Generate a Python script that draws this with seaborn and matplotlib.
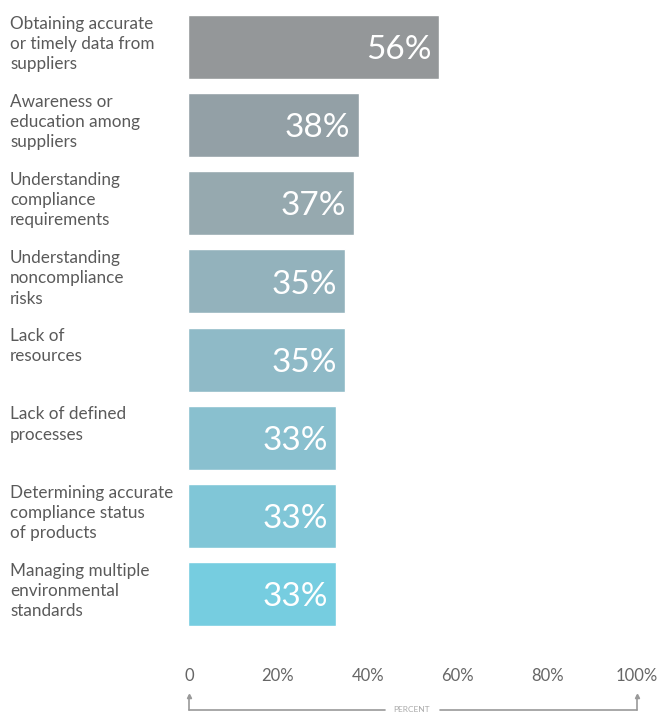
import matplotlib
matplotlib.use("Agg")
import matplotlib.pyplot as plt
import seaborn as sns
import pandas as pd

categories = [
    "Obtaining accurate\nor timely data from\nsuppliers",
    "Awareness or\neducation among\nsuppliers",
    "Understanding\ncompliance\nrequirements",
    "Understanding\nnoncompliance\nrisks",
    "Lack of\nresources",
    "Lack of defined\nprocesses",
    "Determining accurate\ncompliance status\nof products",
    "Managing multiple\nenvironmental\nstandards",
]
values = [56, 38, 37, 35, 35, 33, 33, 33]
xticks = [0, 20, 40, 60, 80, 100]
xticklabels = ["0", "20%", "40%", "60%", "80%", "100%"]
colors = ["#949799", "#93a0a6", "#96a9af", "#93b2bc", "#8fbac7", "#89c0cf", "#80c6d7", "#76cde0"]

sns.set_theme(style="white")
plt.rcParams["font.family"] = ["Lato", "DejaVu Sans"]

df = pd.DataFrame({"cat": categories, "val": values})

fig = plt.figure(figsize=(6.61, 7.13), dpi=100)
ax = fig.add_axes([188/661, 1-633/713, 449/661, 625/713])
sns.barplot(data=df, y="cat", x="val", hue="cat", palette=colors, orient="h",
            width=0.82, legend=False, ax=ax, saturation=1)
ax.set_xlim(0, 100)
ax.set_ylim(7.5, -0.5)
ax.set_xlabel("")
ax.set_ylabel("")
ax.set_yticks([])
ax.set_xticks([])
for s in ax.spines.values():
    s.set_visible(False)

for i, v in enumerate(values):
    ax.text(v - 1.8, i + 0.04, f"{v}%", ha="right", va="center", color="white",
            fontsize=24)
    ax.text(-178/4.49, i - 0.40, categories[i], ha="left", va="top", color="#5a5a5a",
            fontsize=12.3, linespacing=1.32, transform=ax.transData)

# x tick labels
for t, lab in zip(xticks, xticklabels):
    xf = (188 + t * 4.49) / 661
    ha = "center"
    if t == 0:
        xf = 189 / 661
    fig.text(xf, 1 - 676/713, lab, ha=ha, va="center", color="#666666", fontsize=12)

# bracket
gc = "#999999"
x0, x1 = 189/661, 637/661
yb = 1 - 710/713
yt = 1 - 696/713
fig.add_artist(plt.Line2D([x0, x0], [yb, yt], color=gc, lw=1.2, transform=fig.transFigure))
fig.add_artist(plt.Line2D([x1, x1], [yb, yt], color=gc, lw=1.2, transform=fig.transFigure))
fig.add_artist(plt.Line2D([x0, 385/661], [yb, yb], color=gc, lw=1.2, transform=fig.transFigure))
fig.add_artist(plt.Line2D([440/661, x1], [yb, yb], color=gc, lw=1.2, transform=fig.transFigure))
for xx in (x0, x1):
    fig.add_artist(plt.Line2D([xx], [yt], marker="^", markersize=3, color=gc,
                              transform=fig.transFigure))
fig.text(412/661, yb, "PERCENT", ha="center", va="center", color="#aaaaaa", fontsize=6)

fig.savefig("out.png", dpi=100, facecolor="white")
